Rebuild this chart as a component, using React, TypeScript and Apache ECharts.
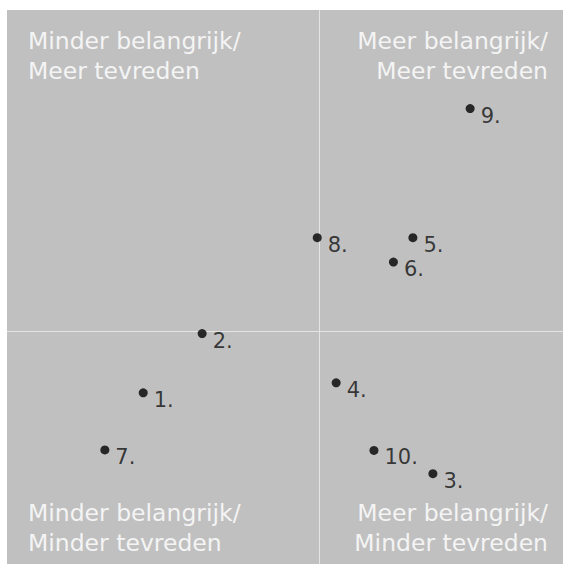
import React, { useEffect, useRef } from "react";
import * as echarts from "echarts";

const labels = ["1.", "2.", "3.", "4.", "5.", "6.", "7.", "8.", "9.", "10."];
const importance = [24.5, 35.1, 76.6, 59.2, 73.0, 69.5, 17.6, 55.8, 83.3, 66.0];
const satisfaction = [30.9, 41.6, 16.3, 32.7, 58.9, 54.5, 20.6, 58.9, 82.2, 20.5];
const dividerX = 56.1;
const dividerY = 42.0;
const quadrantTexts = [
  "Minder belangrijk/\nMeer tevreden",
  "Meer belangrijk/\nMeer tevreden",
  "Minder belangrijk/\nMinder tevreden",
  "Meer belangrijk/\nMinder tevreden",
];

export default function App() {
  const ref = useRef<HTMLDivElement>(null);
  useEffect(() => {
    document.body.style.margin = "0";
    const chart = echarts.init(ref.current!, null, { renderer: "svg" });
    const font = "DejaVu Sans";
    const textStyle = (fill: string) => ({
      fill,
      fontFamily: font,
      fontSize: 23.5,
      lineHeight: 30,
    });
    const qFill = "#f4f4f4";
    chart.setOption({
      animation: false,
      grid: {
        left: 7,
        top: 10,
        right: 0,
        bottom: 0,
        show: true,
        backgroundColor: "#c0c0c0",
        borderWidth: 0,
      },
      xAxis: { type: "value", min: 0, max: 100, show: false },
      yAxis: { type: "value", min: 0, max: 100, show: false },
      graphic: [
        { type: "text", left: 28, top: 26, style: { text: quadrantTexts[0], ...textStyle(qFill) } },
        { type: "text", right: 15, top: 26, style: { text: quadrantTexts[1], textAlign: "right", ...textStyle(qFill) } },
        { type: "text", left: 28, top: 498, style: { text: quadrantTexts[2], ...textStyle(qFill) } },
        { type: "text", right: 15, top: 498, style: { text: quadrantTexts[3], textAlign: "right", ...textStyle(qFill) } },
      ],
      series: [
        {
          type: "scatter",
          data: labels.map((l, i) => ({ name: l, value: [importance[i], satisfaction[i]] })),
          symbolSize: 9,
          itemStyle: { color: "#000" },
          label: {
            show: true,
            position: "right",
            formatter: "{b}",
            color: "#111",
            fontFamily: font,
            fontSize: 21,
            offset: [1, 7],
          },
          markLine: {
            silent: true,
            symbol: "none",
            label: { show: false },
            lineStyle: { color: "#e4e4e4", width: 1, type: "solid" },
            z: 1,
            data: [{ xAxis: dividerX }, { yAxis: dividerY }],
          },
          z: 3,
        },
      ],
    });
    return () => chart.dispose();
  }, []);
  return <div ref={ref} style={{ width: 563, height: 564 }} />;
}
